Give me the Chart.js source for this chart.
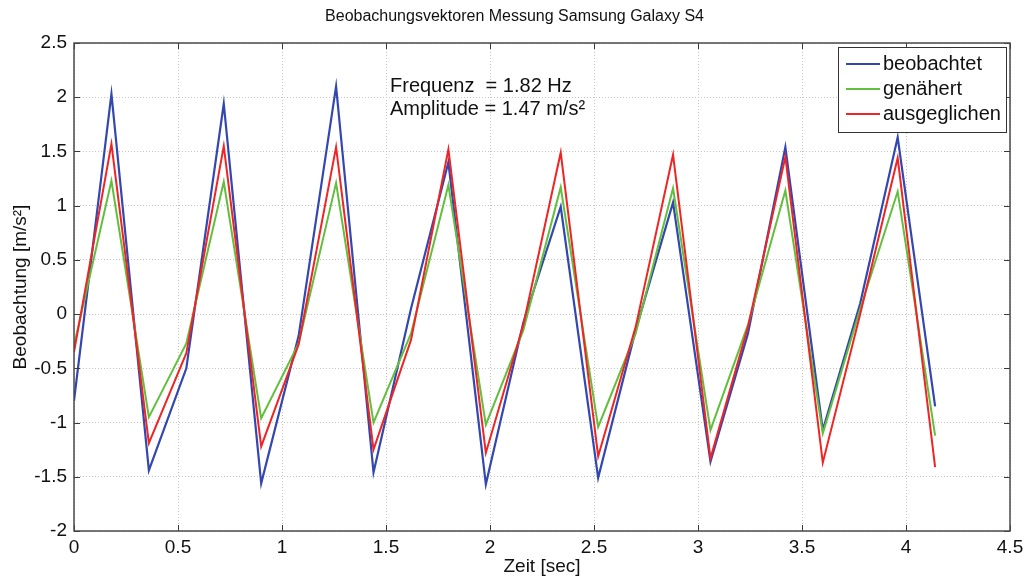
<!DOCTYPE html>
<html lang="de">
<head>
<meta charset="utf-8">
<title>Beobachungsvektoren Messung Samsung Galaxy S4</title>
<script src="https://cdn.jsdelivr.net/npm/chart.js@4.4.1/dist/chart.umd.min.js"></script>
<style>
    html, body { margin: 0; padding: 0; background: #ffffff; }
    #wrap { width: 1029px; height: 579px; }
</style>
</head>
<body>
<div id="wrap"><canvas id="vecChart" width="1029" height="579"></canvas></div>
<script>
// Abtastzeitpunkte [sec]
const zeit = [0, 0.18, 0.36, 0.54, 0.72, 0.9, 1.08, 1.26, 1.44, 1.62, 1.8, 1.98,
              2.16, 2.34, 2.52, 2.7, 2.88, 3.06, 3.24, 3.42, 3.6, 3.78, 3.96, 4.14];

// Beobachtungen [m/s²]
const beobachtet = [-0.80, 2.03, -1.44, -0.50, 1.94, -1.56, -0.20, 2.10, -1.46, 0.05, 1.40, -1.57,
                    -0.08, 0.99, -1.51, -0.15, 1.03, -1.36, -0.18, 1.54, -1.07, 0.10, 1.63, -0.85];
const genaehert = [-0.29, 1.23, -0.95, -0.27, 1.22, -0.96, -0.27, 1.21, -1.00, -0.18, 1.19, -1.02,
                   -0.15, 1.17, -1.04, -0.18, 1.16, -1.07, -0.10, 1.14, -1.10, 0.05, 1.13, -1.12];
const ausgeglichen = [-0.35, 1.57, -1.19, -0.36, 1.55, -1.22, -0.28, 1.54, -1.25, -0.24, 1.52, -1.28,
                      -0.10, 1.49, -1.31, -0.12, 1.47, -1.33, -0.12, 1.45, -1.37, 0.00, 1.44, -1.41];

const xTicks = [0, 0.5, 1, 1.5, 2, 2.5, 3, 3.5, 4, 4.5];
const yTicks = [-2, -1.5, -1, -0.5, 0, 0.5, 1, 1.5, 2, 2.5];

const infoLines = ['Frequenz  = 1.82 Hz', 'Amplitude = 1.47 m/s²'];

const FONT = '"Liberation Sans", Arial, sans-serif';

function toPoints(values) {
    return values.map((v, i) => ({ x: zeit[i], y: v }));
}

// Rahmen, Tick-Striche nach innen, Textbox und Legende
const matlabFrame = {
    id: 'matlabFrame',
    afterDatasetsDraw(chart) {
        const { ctx, chartArea: a, scales } = chart;
        ctx.save();

        // Tick-Striche auf allen vier Seiten
        ctx.strokeStyle = '#3a3a3a';
        ctx.lineWidth = 1;
        const tl = 6;
        ctx.beginPath();
        xTicks.forEach(t => {
            const px = Math.round(scales.x.getPixelForValue(t)) + 0.5;
            ctx.moveTo(px, a.bottom); ctx.lineTo(px, a.bottom - tl);
            ctx.moveTo(px, a.top); ctx.lineTo(px, a.top + tl);
        });
        yTicks.forEach(t => {
            const py = Math.round(scales.y.getPixelForValue(t)) + 0.5;
            ctx.moveTo(a.left, py); ctx.lineTo(a.left + tl, py);
            ctx.moveTo(a.right, py); ctx.lineTo(a.right - tl, py);
        });
        ctx.stroke();

        // Achsenrahmen
        ctx.strokeStyle = '#4a4a4a';
        ctx.lineWidth = 1.5;
        ctx.strokeRect(a.left, a.top, a.right - a.left, a.bottom - a.top);

        // Text mit Frequenz und Amplitude
        ctx.fillStyle = '#111111';
        ctx.font = '20px ' + FONT;
        ctx.textBaseline = 'middle';
        ctx.textAlign = 'left';
        infoLines.forEach((line, i) => {
            ctx.fillText(line, scales.x.getPixelForValue(1.5) + 4, a.top + 43 + i * 23);
        });

        // Legende oben rechts
        const lx = 838, ly = 47, lw = 168, lh = 85;
        ctx.fillStyle = '#ffffff';
        ctx.fillRect(lx, ly, lw, lh);
        ctx.strokeStyle = '#333333';
        ctx.lineWidth = 1;
        ctx.strokeRect(lx + 0.5, ly + 0.5, lw, lh);
        chart.data.datasets.forEach((ds, i) => {
            const y = ly + 17 + i * 25;
            ctx.strokeStyle = ds.borderColor;
            ctx.lineWidth = 2;
            ctx.beginPath();
            ctx.moveTo(lx + 8, y);
            ctx.lineTo(lx + 42, y);
            ctx.stroke();
            ctx.fillStyle = '#111111';
            ctx.fillText(ds.label, lx + 45, y);
        });

        ctx.restore();
    }
};

const tickLabel = v => {
    const r = Math.round(v * 10) / 10;
    return Number.isInteger(r) ? String(r) : r.toFixed(1);
};

new Chart(document.getElementById('vecChart'), {
    type: 'line',
    data: {
        datasets: [
            {
                label: 'beobachtet',
                data: toPoints(beobachtet),
                borderColor: '#3347b0',
                borderWidth: 2.2,
                order: 3
            },
            {
                label: 'genähert',
                data: toPoints(genaehert),
                borderColor: '#62bf3e',
                borderWidth: 2,
                order: 2
            },
            {
                label: 'ausgeglichen',
                data: toPoints(ausgeglichen),
                borderColor: '#f02424',
                borderWidth: 2,
                order: 1
            }
        ]
    },
    options: {
        responsive: false,
        animation: false,
        events: [],
        elements: {
            line: { tension: 0, fill: false },
            point: { radius: 0 }
        },
        layout: { padding: { left: 19, right: 19, top: 0, bottom: 1 } },
        plugins: {
            legend: { display: false },
            tooltip: { enabled: false },
            title: {
                display: true,
                text: 'Beobachungsvektoren Messung Samsung Galaxy S4',
                color: '#111111',
                font: { family: FONT, size: 16, weight: 'normal' },
                padding: { top: 7, bottom: 16.8 }
            }
        },
        scales: {
            x: {
                type: 'linear',
                min: 0,
                max: 4.5,
                afterFit: s => { s.height = 47; },
                afterBuildTicks: s => { s.ticks = xTicks.map(v => ({ value: v })); },
                grid: { color: '#c4c4c4', drawTicks: false, lineWidth: 1 },
                border: { display: false, dash: [1, 2] },
                ticks: {
                    color: '#111111',
                    padding: 5,
                    maxRotation: 0,
                    font: { family: FONT, size: 19 },
                    callback: tickLabel
                },
                title: {
                    display: true,
                    text: 'Zeit [sec]',
                    color: '#111111',
                    padding: 0,
                    font: { family: FONT, size: 19 }
                }
            },
            y: {
                type: 'linear',
                min: -2,
                max: 2.5,
                afterFit: s => { s.width = 55; },
                afterBuildTicks: s => { s.ticks = yTicks.map(v => ({ value: v })); },
                grid: { color: '#c4c4c4', drawTicks: false, lineWidth: 1 },
                border: { display: false, dash: [1, 2] },
                ticks: {
                    color: '#111111',
                    padding: 7,
                    font: { family: FONT, size: 19 },
                    callback: tickLabel
                },
                title: {
                    display: true,
                    text: 'Beobachtung [m/s²]',
                    color: '#111111',
                    padding: { top: -10, bottom: 0 },
                    font: { family: FONT, size: 19 }
                }
            }
        }
    },
    plugins: [matlabFrame]
});
</script>
</body>
</html>
